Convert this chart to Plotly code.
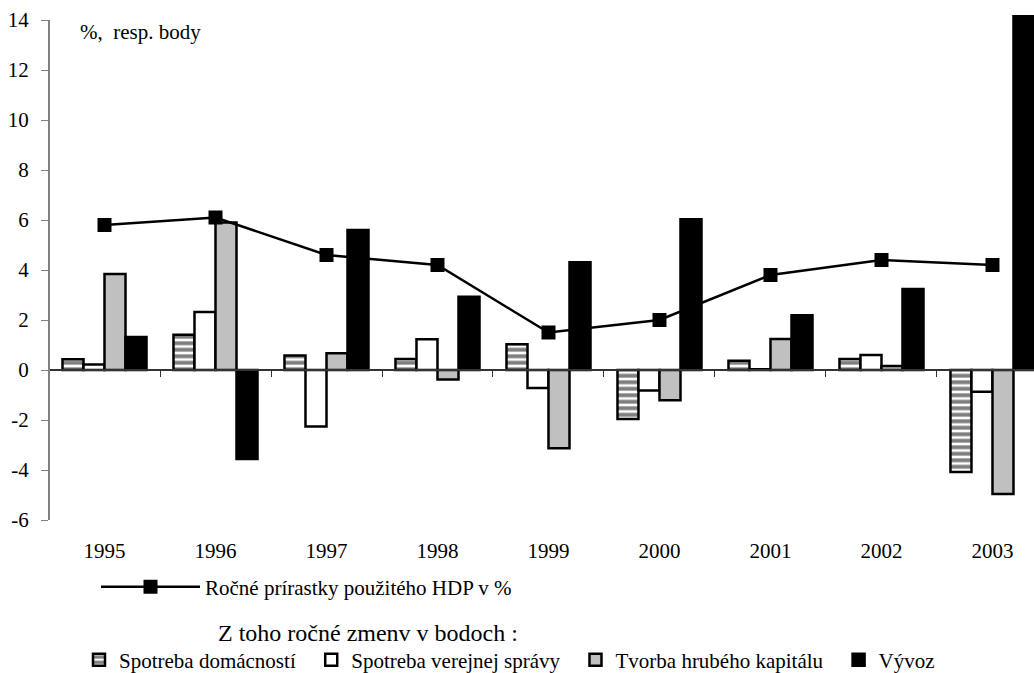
import plotly.graph_objects as go

years = ['1995', '1996', '1997', '1998', '1999', '2000', '2001', '2002', '2003']
hdp = [5.8, 6.1, 4.6, 4.2, 1.5, 2.0, 3.8, 4.4, 4.2]
domacnosti = [0.43, 1.41, 0.58, 0.44, 1.03, -1.96, 0.37, 0.44, -4.08]
verejna = [0.22, 2.32, -2.26, 1.23, -0.72, -0.82, 0.03, 0.60, -0.87]
kapital = [3.84, 5.90, 0.67, -0.38, -3.13, -1.21, 1.24, 0.16, -4.96]
vyvoz = [1.32, -3.56, 5.60, 2.93, 4.31, 6.03, 2.19, 3.24, 14.2]
ytick_vals = [-6, -4, -2, 0, 2, 4, 6, 8, 10, 12, 14]
ytick_text = [str(v) for v in ytick_vals]

FONT = "Liberation Serif"
W, H = 1034, 673
ML, MR, MT, MB = 49, 0, 15, 153
YMIN, YMAX = -6, 14.2
XRANGE = [-0.5, 8.374]
pw, ph = W - ML - MR, H - MT - MB

def px_x(px):
    return (px - ML) / pw

def px_y(py):
    return (H - MB - py) / ph

NB = "\u00a0\u00a0"

fig = go.Figure()
outline = dict(color="black", width=2.5)
fig.add_trace(go.Bar(
    x=years, y=domacnosti, name="Spotreba domácností" + NB,
    marker=dict(color="white", line=outline,
                pattern=dict(shape="-", fgcolor="black", bgcolor="white", size=6.5, solidity=0.6)),
    legend="legend2"))
fig.add_trace(go.Bar(x=years, y=verejna, name="Spotreba verejnej správy" + NB,
                     marker=dict(color="white", line=outline), legend="legend2"))
fig.add_trace(go.Bar(x=years, y=kapital, name="Tvorba hrubého kapitálu" + NB,
                     marker=dict(color="#C0C0C0", line=outline), legend="legend2"))
fig.add_trace(go.Bar(x=years, y=vyvoz, name="Vývoz",
                     marker=dict(color="black", line=outline), legend="legend2"))
fig.add_trace(go.Scatter(x=years, y=hdp, name="Ročné prírastky použitého HDP v %",
                         mode="lines+markers", line=dict(color="black", width=2.5),
                         marker=dict(symbol="square", size=14, color="black"),
                         legend="legend"))
# helper trace so the zero-level category axis is drawn
fig.add_trace(go.Scatter(x=years, y=hdp, xaxis="x2", mode="markers",
                         marker=dict(opacity=0), showlegend=False, hoverinfo="skip"))

fig.update_layout(
    width=W, height=H,
    margin=dict(l=ML, r=MR, t=MT, b=MB, autoexpand=False),
    plot_bgcolor="white", paper_bgcolor="white",
    font=dict(family=FONT, size=21, color="black"),
    barmode="group", bargap=0.243, bargroupgap=0,
    xaxis=dict(type="category", categoryorder="array", categoryarray=years,
               range=XRANGE, showline=False, showgrid=False, ticks="",
               tickfont=dict(family=FONT, size=21), ticklabelstandoff=16,
               zeroline=False, automargin=False),
    xaxis2=dict(type="category", categoryorder="array", categoryarray=years,
                range=XRANGE, overlaying="x", anchor="free",
                position=(0 - YMIN) / (YMAX - YMIN), side="bottom",
                showline=True, linecolor="#333333", linewidth=2,
                ticks="outside", tickson="boundaries", ticklen=6, tickwidth=1.2,
                tickcolor="#333333", showticklabels=False, showgrid=False,
                zeroline=False, automargin=False),
    yaxis=dict(range=[YMIN, YMAX], tickvals=ytick_vals, ticktext=ytick_text,
               showgrid=False, zeroline=False,
               showline=False, ticks="outside", ticklen=7, tickwidth=1.2,
               tickcolor="#808080", tickfont=dict(family=FONT, size=21),
               ticklabelstandoff=8, automargin=False),
    legend=dict(x=96 / W, y=1 - 587 / H, xref="container", yref="container",
                xanchor="left", yanchor="middle",
                orientation="h", itemwidth=99, bgcolor="rgba(0,0,0,0)",
                font=dict(family=FONT, size=21)),
    legend2=dict(x=79 / W, y=1 - 660 / H, xref="container", yref="container",
                 xanchor="left", yanchor="middle",
                 orientation="h", itemwidth=30, bgcolor="rgba(0,0,0,0)",
                 traceorder="normal", font=dict(family=FONT, size=21)),
    shapes=[dict(type="line", xref="paper", yref="y", x0=0, x1=0, y0=-6, y1=14,
                 line=dict(color="#808080", width=2))],
    annotations=[
        dict(text="%,\u00a0 resp. body", xref="paper", yref="paper",
             x=px_x(78), y=px_y(32), xanchor="left", yanchor="middle",
             showarrow=False, font=dict(family=FONT, size=21)),
        dict(text="Z toho ročné zmenv v bodoch :", xref="paper", yref="paper",
             x=px_x(368), y=px_y(633), xanchor="center", yanchor="middle",
             showarrow=False, font=dict(family=FONT, size=24)),
    ],
)

fig.write_html("out.html", config={"displayModeBar": False},
               post_script="document.body.style.margin='0px';document.body.style.overflow='hidden';")
